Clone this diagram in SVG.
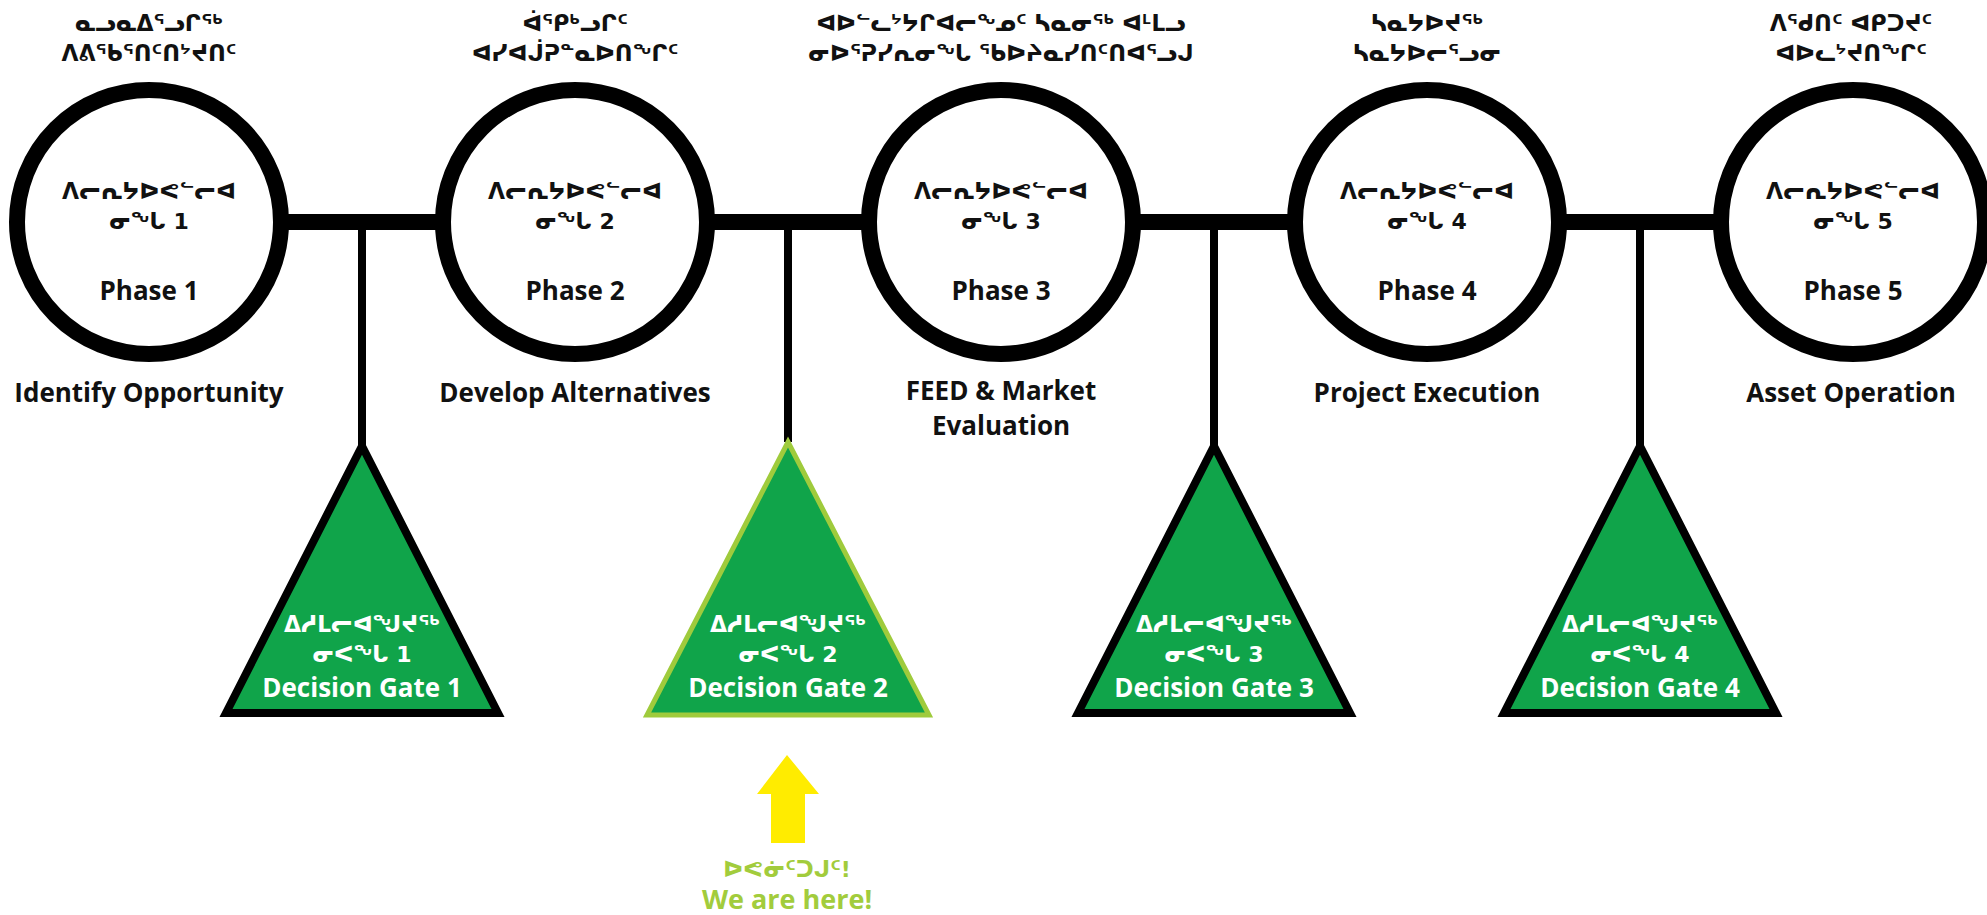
<svg xmlns="http://www.w3.org/2000/svg" width="1987" height="915" viewBox="0 0 1987 915">
<style>
.lat{font-family:"Open Sans","DejaVu Sans",sans-serif;font-weight:700;font-size:26px;text-anchor:middle;fill:#111}
.syl{font-family:"DejaVu Sans",sans-serif;font-weight:700;font-size:22px;text-anchor:middle;fill:#111}
.w{fill:#fff}
.ring{fill:#fff;stroke:#000;stroke-width:16}
.gate{fill:#10a44a;stroke:#000;stroke-width:8;stroke-linejoin:miter}
.gate.here{stroke:#9fcb3c;stroke-width:5}
.here-t{fill:#a2cc3c}
.big{font-size:27px}
</style>
<rect width="1987" height="915" fill="#fff"/>
<g id="connectors" stroke="#000" fill="none">
  <line x1="149" y1="222" x2="1853" y2="222" stroke-width="16"/>
  <line x1="362" y1="222" x2="362" y2="445" stroke-width="8"/>
  <line x1="788" y1="222" x2="788" y2="442" stroke-width="8"/>
  <line x1="1214" y1="222" x2="1214" y2="445" stroke-width="8"/>
  <line x1="1640" y1="222" x2="1640" y2="445" stroke-width="8"/>
</g>
<g id="phase1">
  <text class="syl" x="149" y="31">ᓇᓗᓇᐃᕐᓗᒋᖅ</text>
  <text class="syl" x="149" y="61">ᐱᕕᖃᕐᑎᑦᑎᔾᔪᑎᑦ</text>
  <circle class="ring" cx="149" cy="222" r="132"/>
  <text class="syl" x="149" y="199">ᐱᓕᕆᔭᐅᕙᓪᓕᐊ</text>
  <text class="syl" x="149" y="229">ᓂᖓ 1</text>
  <text class="lat" x="149" y="300">Phase 1</text>
  <text class="lat" x="149" y="402">Identify Opportunity</text>
</g>
<g id="phase2">
  <text class="syl" x="575" y="31">ᐋᕐᑭᒃᓗᒋᑦ</text>
  <text class="syl" x="575" y="61">ᐊᓯᐊᒎᕈᓐᓇᐅᑎᖏᑦ</text>
  <circle class="ring" cx="575" cy="222" r="132"/>
  <text class="syl" x="575" y="199">ᐱᓕᕆᔭᐅᕙᓪᓕᐊ</text>
  <text class="syl" x="575" y="229">ᓂᖓ 2</text>
  <text class="lat" x="575" y="300">Phase 2</text>
  <text class="lat" x="575" y="402">Develop Alternatives</text>
</g>
<g id="phase3">
  <text class="syl" x="1001" y="31">ᐊᐅᓪᓚᔾᔭᒋᐊᓕᖕᓄᑦ ᓴᓇᓂᖅ ᐊᒻᒪᓗ</text>
  <text class="syl" x="1001" y="61">ᓂᐅᕐᕈᓯᕆᓂᖓ ᖃᐅᔨᓇᓯᑎᑦᑎᐊᕐᓗᒍ</text>
  <circle class="ring" cx="1001" cy="222" r="132"/>
  <text class="syl" x="1001" y="199">ᐱᓕᕆᔭᐅᕙᓪᓕᐊ</text>
  <text class="syl" x="1001" y="229">ᓂᖓ 3</text>
  <text class="lat" x="1001" y="300">Phase 3</text>
  <text class="lat" x="1001" y="400">FEED &amp; Market</text>
  <text class="lat" x="1001" y="435">Evaluation</text>
</g>
<g id="phase4">
  <text class="syl" x="1427" y="31">ᓴᓇᔭᐅᔪᖅ</text>
  <text class="syl" x="1427" y="61">ᓴᓇᔭᐅᓕᕐᓗᓂ</text>
  <circle class="ring" cx="1427" cy="222" r="132"/>
  <text class="syl" x="1427" y="199">ᐱᓕᕆᔭᐅᕙᓪᓕᐊ</text>
  <text class="syl" x="1427" y="229">ᓂᖓ 4</text>
  <text class="lat" x="1427" y="300">Phase 4</text>
  <text class="lat" x="1427" y="402">Project Execution</text>
</g>
<g id="phase5">
  <text class="syl" x="1851" y="31">ᐱᕐᑯᑎᑦ ᐊᑭᑐᔪᑦ</text>
  <text class="syl" x="1851" y="61">ᐊᐅᓚᔾᔪᑎᖏᑦ</text>
  <circle class="ring" cx="1853" cy="222" r="132"/>
  <text class="syl" x="1853" y="199">ᐱᓕᕆᔭᐅᕙᓪᓕᐊ</text>
  <text class="syl" x="1853" y="229">ᓂᖓ 5</text>
  <text class="lat" x="1853" y="300">Phase 5</text>
  <text class="lat" x="1851" y="402">Asset Operation</text>
</g>
<g id="gate1">
  <path class="gate" d="M362 446 L498 713 L226 713 Z"/>
  <text class="syl w" x="362" y="632">ᐃᓱᒪᓕᐊᖑᔪᖅ</text>
  <text class="syl w" x="362" y="662">ᓂᐸᖓ 1</text>
  <text class="lat w" x="362" y="697">Decision Gate 1</text>
</g>
<g id="gate2">
  <path class="gate here" d="M788 442 L929 715 L647 715 Z"/>
  <text class="syl w" x="788" y="632">ᐃᓱᒪᓕᐊᖑᔪᖅ</text>
  <text class="syl w" x="788" y="662">ᓂᐸᖓ 2</text>
  <text class="lat w" x="788" y="697">Decision Gate 2</text>
</g>
<g id="gate3">
  <path class="gate" d="M1214 446 L1350 713 L1078 713 Z"/>
  <text class="syl w" x="1214" y="632">ᐃᓱᒪᓕᐊᖑᔪᖅ</text>
  <text class="syl w" x="1214" y="662">ᓂᐸᖓ 3</text>
  <text class="lat w" x="1214" y="697">Decision Gate 3</text>
</g>
<g id="gate4">
  <path class="gate" d="M1640 446 L1776 713 L1504 713 Z"/>
  <text class="syl w" x="1640" y="632">ᐃᓱᒪᓕᐊᖑᔪᖅ</text>
  <text class="syl w" x="1640" y="662">ᓂᐸᖓ 4</text>
  <text class="lat w" x="1640" y="697">Decision Gate 4</text>
</g>
<g id="here">
  <path d="M787 755 L819 794 L805 794 L805 843 L771 843 L771 794 L757 794 Z" fill="#ffec00"/>
  <text class="syl here-t" x="787" y="877">ᐅᕙᓃᑦᑐᒍᑦ!</text>
  <text class="lat here-t big" x="787" y="909">We are here!</text>
</g>
</svg>
